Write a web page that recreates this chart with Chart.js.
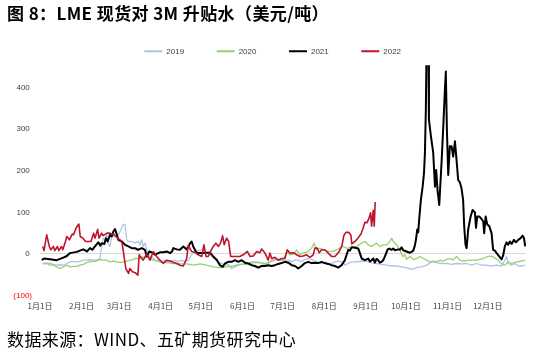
<!DOCTYPE html>
<html><head><meta charset="utf-8">
<script src="https://cdn.jsdelivr.net/npm/chart.js@4.4.1/dist/chart.umd.min.js"></script>
<style>
html,body{margin:0;padding:0;background:#fff;}
#wrap{position:relative;width:536px;height:358px;overflow:hidden;background:#fff;}
#c{position:absolute;left:0;top:0;}
.t{position:absolute;left:7px;font-family:"Noto Sans CJK SC";color:#000;white-space:nowrap;line-height:20px;}
#title{top:3px;font-size:17px;font-weight:bold;letter-spacing:0.4px;}
#src{top:329px;font-size:17px;letter-spacing:0.4px;}
</style></head><body>
<div id="wrap"><canvas id="c" width="536" height="358"></canvas>
<div id="title" class="t">图 8：LME 现货对 3M 升贴水（美元/吨）</div>
<div id="src" class="t">数据来源：WIND、五矿期货研究中心</div></div>
<script>
// x categories: day of year (Jan 1 = 0); tick labels at month starts
const monthDays = [0,31,59,90,120,151,181,212,243,273,304,334];
const monthLabels = ['1月1日','2月1日','3月1日','4月1日','5月1日','6月1日','7月1日','8月1日','9月1日','10月1日','11月1日','12月1日'];
const yTicks = [-100,0,100,200,300,400];
const seriesNames = ['2019','2020','2021','2022'];

const days2019 = [2,5,7.5,10,12.5,15,17.4,20,22.4,24.8,
 27.4,29.8,32.3,34.8,37.3,39.7,42.3,44.7,46,47.2,
 48.5,49.7,50.9,52.2,53.5,55.9,57.6,59.1,61,62.1,
 63.4,64.7,65.8,68.4,70.8,73.3,74.6,75.8,77,78.3,
 79.6,81.5,83.3,85.8,88.2,90.8,93.2,95.7,98.2,100.7,
 103.1,105.7,108.1,110.6,113.1,115.6,118,120.6,123,125.5,
 128,130.5,133,135.5,138,140.4,143,145.4,147.9,150.4,
 152.9,155.3,157.9,160.3,162.8,165.3,167.8,170.2,172.8,175.2,
 177.7,180.2,182.7,185.2,187.7,190.2,192.6,195.2,197.6,200,
 202.6,205,207.5,210,212.5,215,217.5,220,222.4,225,
 227.4,229.9,232.4,236.2,239.9,243.6,247.3,251,254.7,258.5,
 262.3,266,269.7,273.4,277.2,280.9,284.6,288.4,292.1,295.8,
 299.6,303.3,307,310.7,314.4,318.2,321.9,325.6,329.4,333.1,
 336.8,340.6,344.3,346.7,348,349.2,351.8,354.2,356.7,359.2,
 361.9];
const vals2019 = [-23,-22,-23,-25,-27,-26,-27,-23,-19,-18,
 -19,-18,-15,-15,-14,-15,-15,-11,18,38,
 34,50,26,18,42,50,42,50,63,71,
 71,34,30,30,26,30,22,34,18,26,
 10,-6,-6,-15,-15,-19,-15,-19,-17,-15,
 -19,-15,-19,-15,-2,6,8,10,4,2,
 -5,-13,-21,-23,-27,-25,-35,-31,-27,-25,
 -25,-22,-19,-19,-19,-23,-25,-23,-15,-13,
 -13,-15,-17,-15,-19,-15,-15,-19,-13,-11,
 -13,-17,-21,-23,-23,-24,-23,-19,-17,-19,
 -27,-23,-19,-19,-17,-18,-21,-23,-25,-27,
 -29,-29,-31,-33,-37,-33,-31,-27,-19,-21,
 -23,-23,-25,-23,-24,-23,-27,-23,-27,-27,
 -29,-27,-29,-15,-6,-23,-27,-23,-29,-29,
 -27];

const days2020 = [2,5,7.5,10,12.5,15,17.4,20,22.4,24.8,
 27.4,29.8,32.3,34.8,37.3,39.7,42.3,44.7,47.2,49.7,
 52.2,54.7,57.2,59.7,62.1,64.7,67.1,69.6,70.8,74.6,
 77,79.6,80.8,82,84.5,89.5,94.5,99.4,104.4,109.4,
 114.3,119.3,124.3,129.2,134.2,139.2,144.2,149.1,154.1,159,
 164,167.8,171.5,176.5,181.4,184,186.4,188.9,191.4,193.9,
 196.3,200.1,202.6,204.5,206.3,208.8,211.3,215,218.7,221.3,
 223.7,226.2,228.7,232.4,236.2,239.9,242.4,244.8,247.3,251,
 253.5,256,258.5,261,262.3,263.5,266,268.5,269.7,270.9,
 272.2,273.4,275.9,278.4,280.9,283.4,285.8,288.4,290.8,293.3,
 295.8,298.3,300.8,303.3,305.7,308.2,310.7,313.2,315.6,320.6,
 325.6,330.6,334.3,336.8,339.3,341.8,344.3,346.7,349.2,351.8,
 355.5,359.2,361.9];
const vals2020 = [-24,-23,-27,-27,-31,-35,-31,-27,-31,-30,
 -30,-27,-25,-21,-19,-18,-17,-13,-15,-15,
 -19,-17,-19,-21,-19,-17,-15,-14,-11,-11,
 -7,-8,-2,-10,-15,-19,-21,-23,-24,-24,
 -27,-24,-27,-31,-33,-31,-29,-25,-24,-21,
 -21,-23,-19,-13,-16,6,-2,-1,10,-2,
 2,6,14,26,10,14,10,6,6,10,
 14,18,14,16,18,26,30,22,18,26,
 18,22,22,30,38,30,22,10,-2,-6,
 -2,-13,-6,-13,-11,-6,-11,-15,-19,-17,
 -19,-15,-17,-13,-11,-15,-6,-15,-17,-15,
 -15,-11,-6,-5,-10,-15,-24,-27,-19,-23,
 -19,-17,-15];

const days2021 = [1.3,3,7.5,12.5,17.4,20,22.4,27.4,29.8,32.3,
 35,37.3,39,41,43.5,45,46,48,49.2,50.5,
 52.2,53.5,54.7,55.9,57,58.4,61,63.4,66,68.4,
 71,73,76,78.3,79.6,81.5,83.3,85.8,87,89.5,
 92,94.5,97,98.5,99.4,102,104.4,106.9,109.4,111,
 112,113.1,114.3,116.9,119.3,121.8,124.3,126.8,129.2,131.8,
 134.2,136.2,138,140.4,143,145.4,147.9,150.4,152.9,155.3,
 157.9,160.3,162.8,165.3,167.8,170.2,172.8,175.2,177.7,180.2,
 182.7,185.2,187.7,190.2,192.6,195.2,197.6,200,202.6,205,
 207.5,210,212.5,215,217.5,220,222.4,225,227.4,228.7,
 229.9,231.2,232.4,234.9,237.4,238.6,239.9,242.4,244.8,246.1,
 247.3,248.6,249.8,251,252.3,253.5,254.7,256,257.3,259.3,
 260.5,262.3,263.5,264.7,267.2,268.5,269.7,270.9,273.4,275.9,
 277.2,278.4,279.6,280.4,281.4,282.1,282.8,284.1,285.4,286.4,
 287.1,287.8,288.4,289.6,290.1,291.6,293.3,294.6,295.5,296.6,
 297.8,299.6,300.8,302,302.7,303.5,304.5,305.7,307,308.2,
 309.5,310.7,311.9,313.2,314.4,315.6,316.4,317.4,318.2,319.4,
 321.2,322.7,324.4,325.2,326.1,327.6,329.4,330.6,331.3,332.4,
 333.6,335.1,336.8,338,339.3,340.6,342.5,344.3,345.5,346.7,
 348,349.2,350.5,351.8,353.5,355,356.7,358.5,360,361,
 361.9];
const vals2021 = [-15,-11,-13,-15,-9,-5,2,5,8,11,
 6,14,10,18,28,20,26,24,38,30,
 46,42,54,60,50,34,30,22,18,14,
 14,10,14,10,-6,6,4,-2,0,4,
 4,6,2,6,14,11,10,18,11,20,
 26,30,18,2,2,2,3,3,-6,-14,
 -27,-31,-23,-19,-19,-15,-19,-15,-21,-23,
 -27,-29,-33,-29,-29,-27,-29,-27,-24,-22,
 -19,-21,-27,-29,-35,-29,-22,-19,-22,-21,
 -22,-19,-22,-24,-27,-29,-33,-27,-15,-2,
 10,8,16,15,13,2,-11,-15,-11,-18,
 -15,-11,-21,-12,-15,-21,-19,-15,-6,11,
 13,10,13,9,11,10,16,9,6,3,
 5,8,20,34,59,52,82,130,162,194,
 243,347,520,520,323,283,243,162,202,150,
 118,226,307,395,439,300,190,259,259,234,
 271,226,178,172,158,130,67,22,14,59,
 90,106,100,63,90,90,84,78,50,90,
 71,67,50,10,8,2,-6,-13,-3,18,
 28,22,30,24,34,28,34,38,44,38,
 18];

const days2022 = [2,3,5,7,8,10,11,13,14,16,
 17,19,20,22,24,25,27,29,30,32,
 34,36,38,40,41,43,44,46,47,50,
 52,55,58,61,62,64,66,67,69,71,
 73,74,75,77,79.6,82,84.5,87,89.5,92,
 94.5,97,99.4,102,104.4,106.9,109.4,110.6,113,115.6,
 118,120.6,122.3,123.8,125.5,127.3,129.2,131.2,133,134.7,
 136.2,137.4,139.2,140.7,142.2,144.2,149,151.6,154.6,156.6,
 159,161.6,164,165.3,167.8,170.2,171.5,172.8,175.2,177.7,
 180.2,182.7,184.4,186.4,189,191.4,193.9,196.3,198.9,201.3,
 203.8,205,206.8,208.3,210,212.5,215,217.5,220,223,
 225.2,226.7,228.2,230.4,231.9,232.6,234.9,237.1,239.4,240.8,
 242.4,243.8,245.3,246.6,247.3,248.6,249.3,250];
const vals2022 = [18,8,46,18,10,18,8,18,8,18,
 10,30,42,34,48,46,63,72,42,38,
 30,30,30,50,38,59,38,50,44,50,
 50,46,38,30,10,-35,-47,-35,-43,-45,
 -51,-2,-7,-15,0,-15,6,-6,-15,-23,
 -15,-17,-20,-23,-27,-29,-11,20,6,4,
 -2,-6,22,-6,-6,6,18,26,18,26,
 44,22,38,30,-6,-6,-6,-2,6,-6,
 -5,6,3,12,2,-15,2,-11,-8,-15,
 -11,-11,10,2,3,-2,-6,-5,-2,-8,
 -2,14,14,3,10,10,2,-6,-6,5,
 20,45,52,52,45,24,30,38,48,60,
 76,75,85,99,67,105,67,125];

const seriesDays = [days2019, days2020, days2021, days2022];
const seriesVals = [vals2019, vals2020, vals2021, vals2022];
const seriesColors = ['#AEC2EA', '#9ACF73', '#000000', '#C0142C'];
const seriesWidths = [1.3, 1.3, 2, 1.6];
const seriesOrder = [4, 3, 2, 1];

const datasets = seriesNames.map((name, k) => ({
  label: name,
  data: seriesDays[k].map((d, i) => ({x: d, y: seriesVals[k][i]})),
  borderColor: seriesColors[k],
  backgroundColor: seriesColors[k],
  borderWidth: seriesWidths[k],
  pointRadius: 0,
  tension: 0,
  fill: false,
  borderJoinStyle: 'round',
  order: seriesOrder[k]
}));

// shift the legend block slightly right so it sits where the original legend sits
const legendShift = {
  id: 'legendShift',
  afterLayout(chart) {
    if (chart.legend) { chart.legend.left += 5.7; chart.legend.right += 5.7; }
  }
};

new Chart(document.getElementById('c').getContext('2d'), {
  type: 'line',
  data: {datasets},
  plugins: [legendShift],
  options: {
    responsive: false,
    animation: false,
    devicePixelRatio: 1,
    layout: {padding: {left: 8, right: 10, top: 14.8, bottom: 0}},
    plugins: {
      tooltip: {enabled: false},
      legend: {
        display: true, position: 'top', align: 'center',
        labels: {
          boxWidth: 18, boxHeight: 2, padding: 32.5, color: '#404040',
          font: {size: 8, family: 'Liberation Sans'},
          generateLabels: (chart) => chart.data.datasets.map((ds, i) => ({
            text: ds.label, fillStyle: ds.borderColor, strokeStyle: ds.borderColor,
            lineWidth: 0, hidden: false, datasetIndex: i, fontColor: '#404040'
          }))
        }
      }
    },
    scales: {
      x: {
        type: 'linear', min: 0, max: 362.5,
        afterBuildTicks: (s) => { s.ticks = monthDays.map(v => ({value: v})); },
        afterFit: (s) => { s.height = 62.5; },
        ticks: {
          autoSkip: false, maxRotation: 0, minRotation: 0, padding: 6,
          color: '#404040', font: {size: 8, family: 'Noto Sans CJK SC'},
          callback: (v, i) => monthLabels[i]
        },
        grid: {display: false, drawTicks: false},
        border: {display: false}
      },
      y: {
        type: 'linear', min: -100, max: 454,
        afterBuildTicks: (s) => { s.ticks = yTicks.map(v => ({value: v})); },
        afterFit: (s) => { s.width = 32; },
        ticks: {
          padding: 8, font: {size: 8, family: 'Liberation Sans'},
          color: (c) => (c.tick && c.tick.value < 0) ? '#FF0000' : '#404040',
          callback: (v) => v < 0 ? '(' + (-v) + ')' : v + ' '
        },
        grid: {
          drawTicks: false, lineWidth: 1,
          color: (c) => (c.tick && c.tick.value === 0) ? '#D9D9D9' : 'rgba(0,0,0,0)'
        },
        border: {display: false}
      }
    }
  }
});
</script>
</body></html>
